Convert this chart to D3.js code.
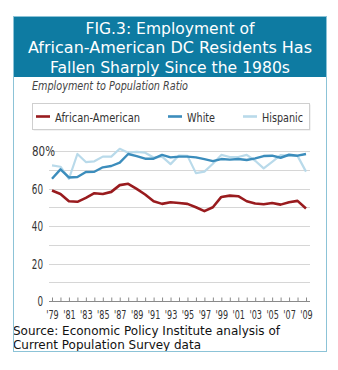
<!DOCTYPE html>
<html>
<head>
<meta charset="utf-8">
<script src="https://cdn.jsdelivr.net/npm/d3@7"></script>
<style>
  body { margin: 0; background: #fff; }
  .narrow { font-family: "Liberation Sans Narrow", "DejaVu Sans Condensed", "DejaVu Sans", sans-serif; font-stretch: condensed; }
</style>
</head>
<body>
<div id="container"></div>
<script>
/* DATA */
const years = [1979, 1980, 1981, 1982, 1983, 1984, 1985, 1986, 1987, 1988, 1989, 1990,
  1991, 1992, 1993, 1994, 1995, 1996, 1997, 1998, 1999, 2000, 2001, 2002, 2003, 2004,
  2005, 2006, 2007, 2008, 2009]

const africanAmerican = [58.9, 57.1, 53.2, 52.9, 55, 57.5, 57.1, 58.2, 61.8, 62.5, 59.8, 56.8,
  53.2, 51.8, 52.7, 52.3, 51.8, 50, 47.9, 50, 55.5, 56.2, 55.9, 53.2, 52, 51.6,
  52.3, 51.4, 52.7, 53.4, 49.3]

const white = [65.2, 70.2, 65.9, 66.1, 68.8, 68.9, 71.3, 72, 73.8, 78.4, 77.3, 75.9,
  75.9, 77.9, 76.6, 77, 77, 76.6, 75.7, 74.6, 75.7, 75.4, 75.7, 75.2, 76.1, 77.3,
  77.5, 76.4, 78, 77.5, 78.4]

const hispanic = [72.3, 71.6, 65.2, 78.4, 74.1, 74.5, 77, 77, 81.2, 79.1, 79.5, 79.1,
  76.5, 77, 73, 77.6, 77.4, 68.2, 69, 73.2, 77.9, 76.8, 76.8, 77.9, 74.8, 70.7,
  74.2, 77.8, 77.4, 77.4, 69]

const yTicks = [0, 10, 20, 30, 40, 50, 60, 70, 80]
const yLabels = [0, 20, 40, 60, 80]

const titleLines = ['FIG.3: Employment of', 'African-American DC Residents Has', 'Fallen Sharply Since the 1980s']
const subtitle = 'Employment to Population Ratio'
const sourceLines = ['Source: Economic Policy Institute analysis of', 'Current Population Survey data']

const series = [
  { name: 'African-American', values: africanAmerican, color: '#991b1e', width: 2.6 },
  { name: 'White', values: white, color: '#3c8dbc', width: 2.4 },
  { name: 'Hispanic', values: hispanic, color: '#b9daea', width: 2.2 }
]

/* CONSTANTS */
const width = 338,
  height = 370,
  margin = { top: 151, bottom: 69, left: 52, right: 32 }

// squeeze text to a measured width
function fit(sel, w) {
  sel.attr('textLength', w).attr('lengthAdjust', 'spacingAndGlyphs')
}

const svg = d3.select('#container')
  .append('svg')
  .attr('width', width)
  .attr('height', height)

// + SCALES
const xScale = d3.scaleLinear()
  .domain([d3.min(years), d3.max(years)])
  .range([margin.left, width - margin.right])

const yScale = d3.scaleLinear()
  .domain([0, 80])
  .range([height - margin.bottom, margin.top])

// + FRAME AND TITLE
svg.append('rect')
  .attr('x', 14).attr('y', 17)
  .attr('width', 312).attr('height', 60)
  .attr('fill', '#0e7ba2')

titleLines.forEach((t, i) => {
  svg.append('text')
    .attr('x', 170)
    .attr('y', 34 + i * 19.3)
    .attr('text-anchor', 'middle')
    .attr('fill', '#fff')
    .style('font-family', '"DejaVu Sans", sans-serif')
    .style('font-size', '16.5px')
    .text(t)
    .call(fit, [169, 284, 240][i])
})

svg.append('text')
  .attr('class', 'narrow')
  .attr('x', 32).attr('y', 90)
  .attr('fill', '#444')
  .style('font-size', '12px')
  .style('font-style', 'italic')
  .text(subtitle)
  .call(fit, 156)

// + LEGEND
svg.append('rect')
  .attr('x', 33.5).attr('y', 104.5)
  .attr('width', 277).attr('height', 26)
  .attr('fill', '#e6e6e6')
svg.append('rect')
  .attr('x', 32.5).attr('y', 103.5)
  .attr('width', 277).attr('height', 26)
  .attr('fill', '#fff')
  .attr('stroke', '#cfcfcf')

const legendX = [36, 168, 243]
const legendW = [85, 28, 41]
const legend = svg.append('g')
legend.selectAll('line')
  .data(series)
  .join('line')
  .attr('x1', (d, i) => legendX[i])
  .attr('x2', (d, i) => legendX[i] + 14)
  .attr('y1', 116.5).attr('y2', 116.5)
  .attr('stroke', d => d.color)
  .attr('stroke-width', 2.6)

legend.selectAll('text')
  .data(series)
  .join('text')
  .attr('class', 'narrow')
  .attr('x', (d, i) => legendX[i] + 19)
  .attr('y', 121.5)
  .attr('fill', '#333')
  .style('font-size', '12.5px')
  .text(d => d.name)
  .each(function (d, i) { d3.select(this).call(fit, legendW[i]) })

// + GRIDLINES
svg.append('g')
  .selectAll('line')
  .data(yTicks)
  .join('line')
  .attr('x1', 49).attr('x2', 310)
  .attr('y1', d => Math.round(yScale(d)) + 0.5)
  .attr('y2', d => Math.round(yScale(d)) + 0.5)
  .attr('stroke', d => d === 0 ? '#8a8a8a' : '#d6d6d6')
  .attr('stroke-width', 1)

// + Y LABELS (top label carries the % sign, which hangs past the others)
svg.append('g')
  .selectAll('text')
  .data(yLabels)
  .join('text')
  .attr('class', 'narrow')
  .attr('x', d => d === 80 ? 32 : 43)
  .attr('y', d => yScale(d) + 5)
  .attr('text-anchor', d => d === 80 ? 'start' : 'end')
  .attr('fill', '#333')
  .style('font-size', '14px')
  .text(d => d === 80 ? d + '%' : d)
  .each(function (d) { d3.select(this).call(fit, d === 80 ? 23 : String(d).length * 5.6) })

// + X AXIS
const xAxis = d3.axisBottom(xScale)
  .tickValues(years)
  .tickSizeInner(-4)
  .tickSizeOuter(0)
  .tickPadding(9)
  .tickFormat(d => (d - 1979) % 2 === 0 ? "'" + String(d).slice(2) : '')

const xg = svg.append('g')
  .attr('transform', `translate(0, ${Math.round(yScale(0)) + 0.5})`)
  .call(xAxis)
xg.select('.domain').remove()
xg.selectAll('.tick line').attr('stroke', '#8a8a8a')
xg.selectAll('.tick text')
  .attr('class', 'narrow')
  .attr('fill', '#333')
  .style('font-size', '11.5px')
  .filter(d => (d - 1979) % 2 === 0)
  .call(fit, 12.5)

// + LINES
const line = d3.line()
  .x((d, i) => xScale(years[i]))
  .y(d => yScale(d))

svg.append('g')
  .selectAll('path')
  .data(series.slice().reverse())
  .join('path')
  .attr('d', d => line(d.values))
  .attr('fill', 'none')
  .attr('stroke', d => d.color)
  .attr('stroke-width', d => d.width)
  .attr('stroke-linejoin', 'round')

// + SOURCE
sourceLines.forEach((t, i) => {
  svg.append('text')
    .attr('x', 13).attr('y', 335 + i * 14)
    .attr('fill', '#111')
    .style('font-family', '"DejaVu Sans", sans-serif')
    .style('font-size', '12px')
    .text(t)
    .call(fit, [267, 188][i])
})

// outer frame drawn last
svg.append('rect')
  .attr('x', 13.5).attr('y', 16.5)
  .attr('width', 313).attr('height', 335)
  .attr('fill', 'none')
  .attr('stroke', '#8cc3d7')
</script>
</body>
</html>
